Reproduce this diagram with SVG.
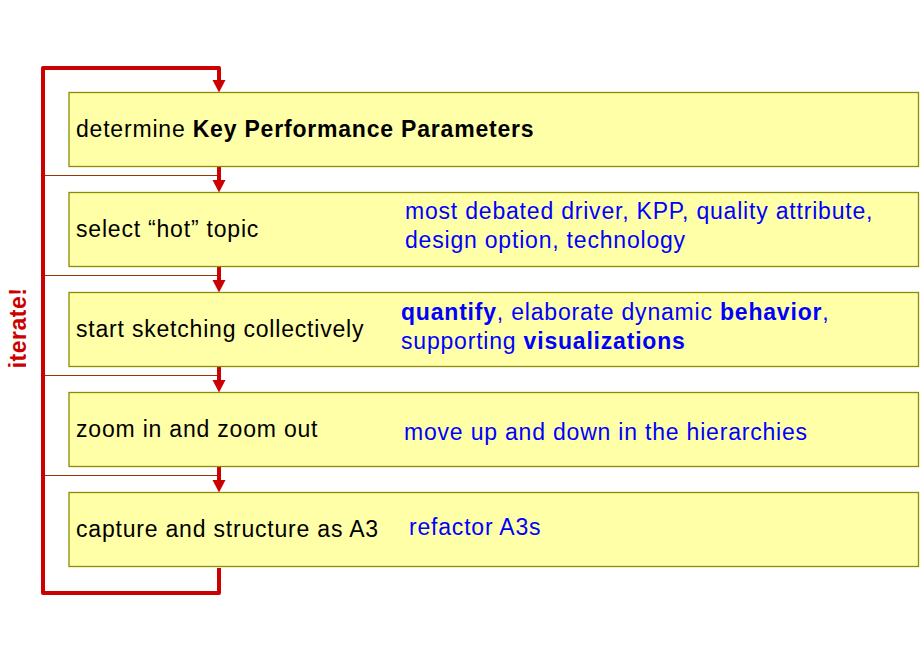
<svg xmlns="http://www.w3.org/2000/svg" width="920" height="660" viewBox="0 0 920 660">
<style>
.box{fill:#FFFFA8;stroke:#8C8C00;stroke-width:1.3}
.t{font-family:"Liberation Sans",Arial,sans-serif;font-size:23px;letter-spacing:0.8px;fill:#000}
.b{fill:#0000FF}
.bold{font-weight:bold}
.loop{fill:none;stroke:#CC0000;stroke-width:4;stroke-linejoin:round}
.thin{fill:none;stroke:#993300;stroke-width:1.2}
.stem{fill:none;stroke:#CC0000;stroke-width:4}
.head{fill:#CC0000}
</style>
<rect width="920" height="660" fill="#fff"/>
<g id="connectors">
<path class="loop" d="M219,80 V68 H43 V593 H219 V568"/>
<polygon class="head" points="212.5,80 225.5,80 219,92.5"/>
<path class="thin" d="M45,175.5 H219"/>
<path class="thin" d="M45,275.5 H219"/>
<path class="thin" d="M45,375.5 H219"/>
<path class="thin" d="M45,475.5 H219"/>
<path class="stem" d="M219,166 V181 M219,266 V281 M219,366 V381 M219,466 V481"/>
<polygon class="head" points="212.5,180 225.5,180 219,192.5"/>
<polygon class="head" points="212.5,280 225.5,280 219,292.5"/>
<polygon class="head" points="212.5,380 225.5,380 219,392.5"/>
<polygon class="head" points="212.5,480 225.5,480 219,492.5"/>
</g>
<text class="t bold" transform="translate(26,328) rotate(-90)" text-anchor="middle" style="fill:#CC0000;font-size:23px;letter-spacing:0.5px">iterate!</text>
<g id="n1">
<rect class="box" x="69" y="92.5" width="849.5" height="74"/>
<text class="t" x="76" y="137">determine <tspan class="bold">Key Performance Parameters</tspan></text>
</g>
<g id="n2">
<rect class="box" x="69" y="192.5" width="849.5" height="74"/>
<text class="t" x="76" y="237">select “hot” topic</text>
<text class="t b" x="405" y="219">most debated driver, KPP, quality attribute,</text>
<text class="t b" x="405" y="248">design option, technology</text>
</g>
<g id="n3">
<rect class="box" x="69" y="292.5" width="849.5" height="74"/>
<text class="t" x="76" y="337">start sketching collectively</text>
<text class="t b" x="401" y="319.5"><tspan class="bold">quantify</tspan>, elaborate dynamic <tspan class="bold">behavior</tspan>,</text>
<text class="t b" x="401" y="348.5">supporting <tspan class="bold">visualizations</tspan></text>
</g>
<g id="n4">
<rect class="box" x="69" y="392.5" width="849.5" height="74"/>
<text class="t" x="76" y="437">zoom in and zoom out</text>
<text class="t b" x="404" y="439.5">move up and down in the hierarchies</text>
</g>
<g id="n5">
<rect class="box" x="69" y="492.5" width="849.5" height="74"/>
<text class="t" x="76" y="537">capture and structure as A3</text>
<text class="t b" x="409" y="534.5">refactor A3s</text>
</g>
</svg>
